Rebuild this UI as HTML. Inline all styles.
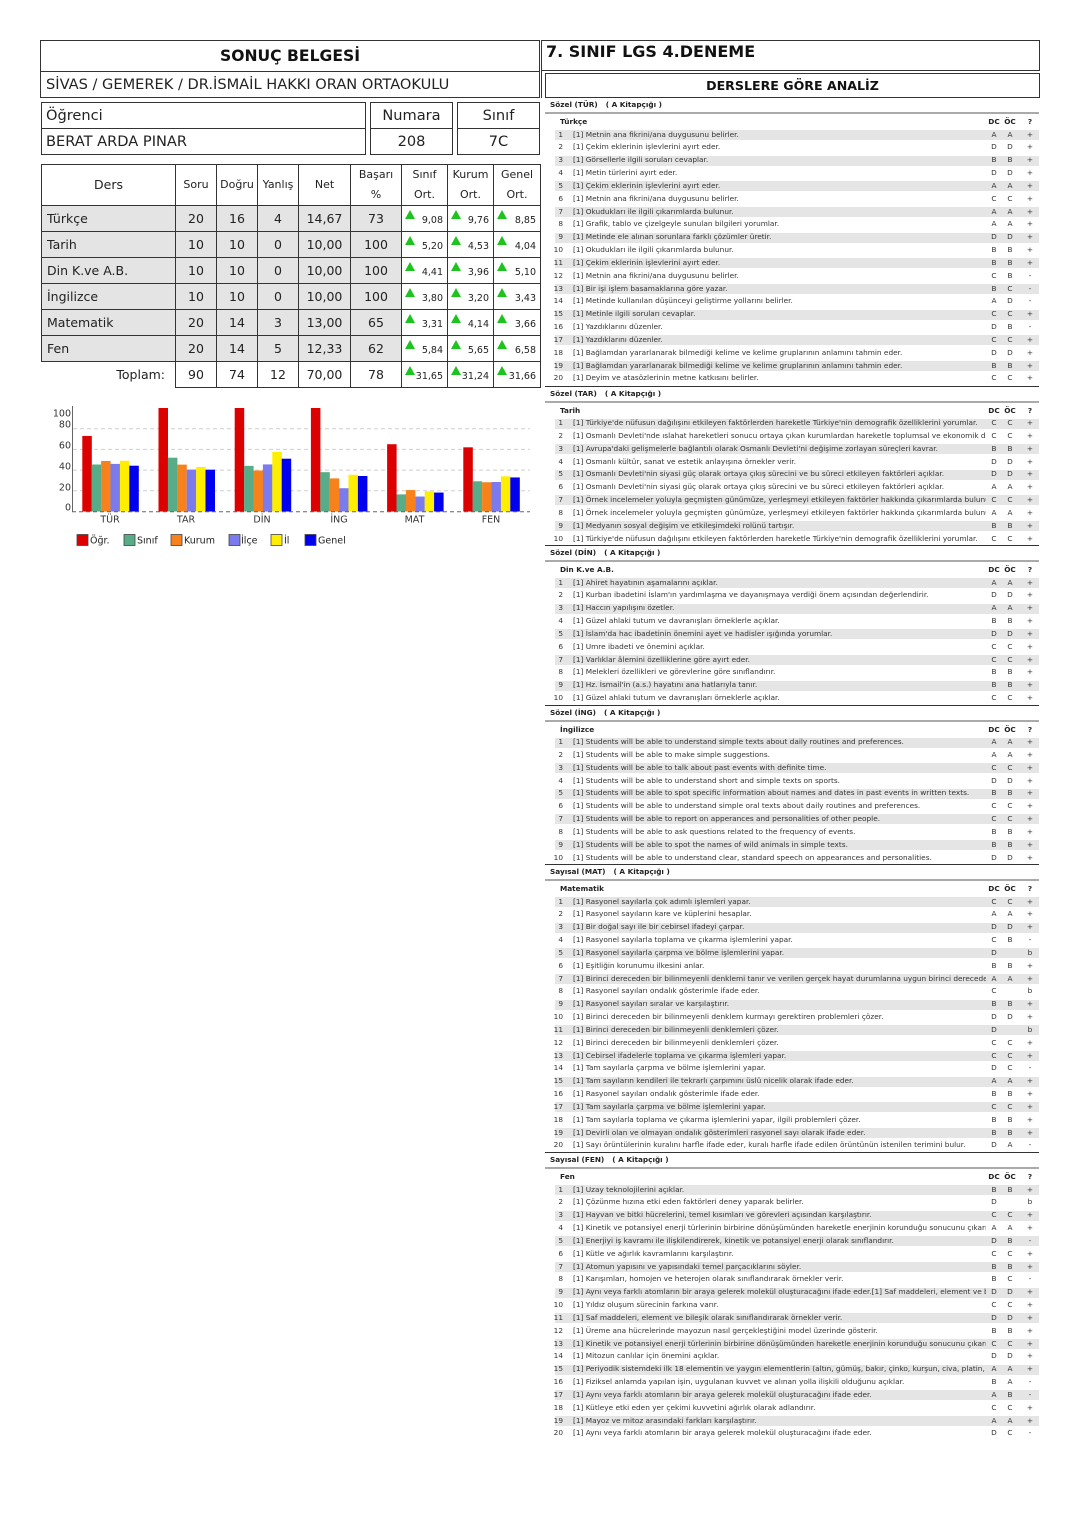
<!DOCTYPE html>
<html>
<head>
<meta charset="utf-8">
<style>
*{margin:0;padding:0;box-sizing:border-box}
html,body{width:1080px;height:1527px;background:#fff;overflow:hidden}
body{position:relative;font-family:"DejaVu Sans","Liberation Sans",sans-serif;color:#222}
.abs{position:absolute}
.box{position:absolute;border:1px solid #333}
/* main table */
table.mt{position:absolute;left:41px;top:164px;width:499px;border-collapse:collapse;table-layout:fixed}
table.mt td{border:1px solid #333;text-align:center;vertical-align:middle;font-size:12.5px;color:#222;white-space:nowrap}
table.mt tr.h td{font-size:11px;line-height:20px}
table.mt tr.h td.ders{font-size:12.5px}
table.mt tr.d td{height:26px}
table.mt tr.d td.gr{background:#e4e4e4}
table.mt td.nm{text-align:left;padding-left:5px}
table.mt td.o{position:relative;text-align:right;padding-right:4px;padding-top:3px;font-size:9.5px;background:#fff}
.tri{position:absolute;left:3px;top:4px;width:0;height:0;border-left:5px solid transparent;border-right:5px solid transparent;border-bottom:9px solid #1ec41e}
/* right sections */
.sec{position:absolute;left:545px;width:494px}
.st{height:15px;border-top:1px solid #333;font-weight:bold;font-size:7.3px;line-height:14px;padding-left:5px;color:#222;white-space:nowrap}
.st span{margin-left:8px}
.gl{height:2px;background:#aaa}
.sh{position:relative;height:14.6px;line-height:15px;font-weight:bold;font-size:7.3px;color:#222;margin-left:10px}
.sh span{position:absolute;top:0}
.r{position:relative;height:12.84px;line-height:12.84px;margin-left:10px;font-size:7.35px;color:#333;white-space:nowrap}
.r.g{background:linear-gradient(#e5e5e5,#e5e5e5) 0 50%/100% 10px no-repeat}
.r span,.sh span{position:absolute;top:0}
.n{left:-4px;width:12px;text-align:right}
.t{left:18px;width:413px;overflow:hidden}
.a{left:432px;width:14px;text-align:center}
.b{left:448px;width:14px;text-align:center}
.c{left:468px;width:14px;text-align:center}
</style>
</head>
<body>

<!-- LEFT HEADER -->
<div class="box" style="left:40px;top:40px;width:500px;height:58px;">
  <div style="height:31px;border-bottom:1px solid #333;text-align:center;font-weight:bold;font-size:15.6px;line-height:30px;color:#111;">SONUÇ BELGESİ</div>
  <div style="height:26px;line-height:26px;font-size:14.6px;padding-left:5px;color:#222;white-space:nowrap;">SİVAS / GEMEREK / DR.İSMAİL HAKKI ORAN ORTAOKULU</div>
</div>

<div class="box" style="left:41px;top:102px;width:325px;height:53px;">
  <div style="height:26px;border-bottom:1px solid #333;line-height:25px;font-size:14.6px;padding-left:4px;">Öğrenci</div>
  <div style="height:25px;line-height:25px;font-size:14.6px;padding-left:4px;">BERAT ARDA PINAR</div>
</div>
<div class="box" style="left:370px;top:102px;width:83px;height:53px;text-align:center;">
  <div style="height:26px;border-bottom:1px solid #333;line-height:25px;font-size:14.6px;">Numara</div>
  <div style="height:25px;line-height:25px;font-size:14.6px;">208</div>
</div>
<div class="box" style="left:457px;top:102px;width:83px;height:53px;text-align:center;">
  <div style="height:26px;border-bottom:1px solid #333;line-height:25px;font-size:14.6px;">Sınıf</div>
  <div style="height:25px;line-height:25px;font-size:14.6px;">7C</div>
</div>

<table class="mt">
<colgroup><col style="width:134px"><col style="width:41px"><col style="width:41px"><col style="width:41px"><col style="width:52px"><col style="width:51px"><col style="width:46px"><col style="width:46px"><col style="width:47px"></colgroup>
<tr class="h" style="height:41px"><td class="ders">Ders</td><td>Soru</td><td>Doğru</td><td>Yanlış</td><td>Net</td><td>Başarı<br>%</td><td>Sınıf<br>Ort.</td><td>Kurum<br>Ort.</td><td>Genel<br>Ort.</td></tr>
<tr class="d"><td class="gr nm">Türkçe</td><td class="gr">20</td><td class="gr">16</td><td class="gr">4</td><td class="gr">14,67</td><td class="gr">73</td><td class="o"><div class="tri"></div>9,08</td><td class="o"><div class="tri"></div>9,76</td><td class="o"><div class="tri"></div>8,85</td></tr>
<tr class="d"><td class="gr nm">Tarih</td><td class="gr">10</td><td class="gr">10</td><td class="gr">0</td><td class="gr">10,00</td><td class="gr">100</td><td class="o"><div class="tri"></div>5,20</td><td class="o"><div class="tri"></div>4,53</td><td class="o"><div class="tri"></div>4,04</td></tr>
<tr class="d"><td class="gr nm">Din K.ve A.B.</td><td class="gr">10</td><td class="gr">10</td><td class="gr">0</td><td class="gr">10,00</td><td class="gr">100</td><td class="o"><div class="tri"></div>4,41</td><td class="o"><div class="tri"></div>3,96</td><td class="o"><div class="tri"></div>5,10</td></tr>
<tr class="d"><td class="gr nm">İngilizce</td><td class="gr">10</td><td class="gr">10</td><td class="gr">0</td><td class="gr">10,00</td><td class="gr">100</td><td class="o"><div class="tri"></div>3,80</td><td class="o"><div class="tri"></div>3,20</td><td class="o"><div class="tri"></div>3,43</td></tr>
<tr class="d"><td class="gr nm">Matematik</td><td class="gr">20</td><td class="gr">14</td><td class="gr">3</td><td class="gr">13,00</td><td class="gr">65</td><td class="o"><div class="tri"></div>3,31</td><td class="o"><div class="tri"></div>4,14</td><td class="o"><div class="tri"></div>3,66</td></tr>
<tr class="d"><td class="gr nm">Fen</td><td class="gr">20</td><td class="gr">14</td><td class="gr">5</td><td class="gr">12,33</td><td class="gr">62</td><td class="o"><div class="tri"></div>5,84</td><td class="o"><div class="tri"></div>5,65</td><td class="o"><div class="tri"></div>6,58</td></tr>
<tr class="d"><td style="border-left:none;border-bottom:none;text-align:right;padding-right:10px;">Toplam:</td><td>90</td><td>74</td><td>12</td><td>70,00</td><td>78</td><td class="o"><div class="tri"></div>31,65</td><td class="o"><div class="tri"></div>31,24</td><td class="o"><div class="tri"></div>31,66</td></tr>
</table>

<!-- CHART -->
<svg class="abs" style="left:40px;top:400px" width="500" height="150" viewBox="40 400 500 150" xmlns="http://www.w3.org/2000/svg" font-family="DejaVu Sans, Liberation Sans, sans-serif">
  <g stroke="#cfcfcf" stroke-width="1" stroke-dasharray="4,3">
    <line x1="73" y1="490.8" x2="530" y2="490.8"/>
    <line x1="73" y1="470.1" x2="530" y2="470.1"/>
    <line x1="73" y1="449.4" x2="530" y2="449.4"/>
    <line x1="73" y1="428.7" x2="530" y2="428.7"/>
  </g>
  <g font-size="9.5" fill="#333" text-anchor="end">
    <text x="71" y="416.5">100</text>
    <text x="71" y="427.5">80</text>
    <text x="71" y="448.5">60</text>
    <text x="71" y="469.5">40</text>
    <text x="71" y="490.5">20</text>
    <text x="71" y="510.5">0</text>
  </g>
  <g>
    <rect x="82.3" y="435.94" width="9.5" height="75.56" fill="#dd0000"/>
    <rect x="91.7" y="464.51" width="9.5" height="46.99" fill="#58ad88"/>
    <rect x="101.1" y="460.99" width="9.5" height="50.51" fill="#f7821b"/>
    <rect x="110.5" y="463.89" width="9.5" height="47.61" fill="#7b7bee"/>
    <rect x="119.9" y="460.78" width="9.5" height="50.72" fill="#ffee00"/>
    <rect x="129.3" y="465.70" width="9.5" height="45.80" fill="#0000ee"/>
    <rect x="158.5" y="408" width="9.5" height="103.5" fill="#dd0000"/>
    <rect x="167.9" y="457.68" width="9.5" height="53.82" fill="#58ad88"/>
    <rect x="177.3" y="464.61" width="9.5" height="46.89" fill="#f7821b"/>
    <rect x="186.7" y="469.58" width="9.5" height="41.92" fill="#7b7bee"/>
    <rect x="196.1" y="466.99" width="9.5" height="44.51" fill="#ffee00"/>
    <rect x="205.5" y="469.69" width="9.5" height="41.81" fill="#0000ee"/>
    <rect x="234.7" y="408" width="9.5" height="103.5" fill="#dd0000"/>
    <rect x="244.1" y="465.86" width="9.5" height="45.64" fill="#58ad88"/>
    <rect x="253.5" y="470.51" width="9.5" height="40.99" fill="#f7821b"/>
    <rect x="262.9" y="464.41" width="9.5" height="47.09" fill="#7b7bee"/>
    <rect x="272.3" y="451.99" width="9.5" height="59.51" fill="#ffee00"/>
    <rect x="281.7" y="458.71" width="9.5" height="52.79" fill="#0000ee"/>
    <rect x="310.9" y="408" width="9.5" height="103.5" fill="#dd0000"/>
    <rect x="320.3" y="472.17" width="9.5" height="39.33" fill="#58ad88"/>
    <rect x="329.7" y="478.38" width="9.5" height="33.12" fill="#f7821b"/>
    <rect x="339.1" y="488.21" width="9.5" height="23.29" fill="#7b7bee"/>
    <rect x="348.5" y="474.76" width="9.5" height="36.74" fill="#ffee00"/>
    <rect x="357.9" y="476.0" width="9.5" height="35.5" fill="#0000ee"/>
    <rect x="387.1" y="444.22" width="9.5" height="67.28" fill="#dd0000"/>
    <rect x="396.5" y="494.37" width="9.5" height="17.13" fill="#58ad88"/>
    <rect x="405.9" y="490.08" width="9.5" height="21.42" fill="#f7821b"/>
    <rect x="415.3" y="496.49" width="9.5" height="15.01" fill="#7b7bee"/>
    <rect x="424.7" y="491.32" width="9.5" height="20.18" fill="#ffee00"/>
    <rect x="434.1" y="492.56" width="9.5" height="18.94" fill="#0000ee"/>
    <rect x="463.3" y="447.33" width="9.5" height="64.17" fill="#dd0000"/>
    <rect x="472.7" y="481.28" width="9.5" height="30.22" fill="#58ad88"/>
    <rect x="482.1" y="482.26" width="9.5" height="29.24" fill="#f7821b"/>
    <rect x="491.5" y="482.0" width="9.5" height="29.5" fill="#7b7bee"/>
    <rect x="500.9" y="476.31" width="9.5" height="35.19" fill="#ffee00"/>
    <rect x="510.3" y="477.45" width="9.5" height="34.05" fill="#0000ee"/>
  </g>
  <line x1="72.5" y1="406" x2="72.5" y2="512" stroke="#666" stroke-width="1"/>
  <line x1="72" y1="511.8" x2="530" y2="511.8" stroke="#666" stroke-width="1" stroke-dasharray="4,3"/>
  <g font-size="9.5" fill="#333" text-anchor="middle">
    <text x="110" y="522.5">TÜR</text>
    <text x="186" y="522.5">TAR</text>
    <text x="262" y="522.5">DİN</text>
    <text x="339" y="522.5">İNG</text>
    <text x="414.5" y="522.5">MAT</text>
    <text x="491" y="522.5">FEN</text>
  </g>
  <g stroke="#444" stroke-width="0.8">
    <rect x="77" y="534.5" width="11" height="11" fill="#dd0000"/>
    <rect x="124" y="534.5" width="11" height="11" fill="#58ad88"/>
    <rect x="171" y="534.5" width="11" height="11" fill="#f7821b"/>
    <rect x="229" y="534.5" width="11" height="11" fill="#7b7bee"/>
    <rect x="271" y="534.5" width="11" height="11" fill="#ffee00"/>
    <rect x="305" y="534.5" width="11" height="11" fill="#0000ee"/>
  </g>
  <g font-size="9.5" fill="#222">
    <text x="90" y="543.5">Öğr.</text>
    <text x="137" y="543.5">Sınıf</text>
    <text x="184" y="543.5">Kurum</text>
    <text x="241" y="543.5">İlçe</text>
    <text x="284" y="543.5">İl</text>
    <text x="318" y="543.5">Genel</text>
  </g>
</svg>

<!-- RIGHT HEADER -->
<div class="box" style="left:541px;top:40px;width:499px;height:31px;">
  <div style="font-weight:bold;font-size:16px;line-height:20px;padding-left:4px;padding-top:1px;color:#111;white-space:nowrap;">7. SINIF LGS 4.DENEME</div>
</div>
<div class="abs" style="left:541px;top:70px;width:1px;height:28px;background:#333"></div>
<div class="box" style="left:545px;top:73px;width:495px;height:25px;text-align:center;font-weight:bold;font-size:12.6px;line-height:23px;color:#111;">DERSLERE GÖRE ANALİZ</div>

<!-- TÜR -->
<div class="sec" style="top:97px">
<div class="st">Sözel (TÜR)<span>( A Kitapçığı )</span></div>
<div class="gl"></div>
<div class="sh"><span style="left:5px">Türkçe</span><span class="a">DC</span><span class="b">ÖC</span><span class="c">?</span></div>
<div class="r g"><span class="n">1</span><span class="t">[1] Metnin ana fikrini/ana duygusunu belirler.</span><span class="a">A</span><span class="b">A</span><span class="c">+</span></div>
<div class="r"><span class="n">2</span><span class="t">[1] Çekim eklerinin işlevlerini ayırt eder.</span><span class="a">D</span><span class="b">D</span><span class="c">+</span></div>
<div class="r g"><span class="n">3</span><span class="t">[1] Görsellerle ilgili soruları cevaplar.</span><span class="a">B</span><span class="b">B</span><span class="c">+</span></div>
<div class="r"><span class="n">4</span><span class="t">[1] Metin türlerini ayırt eder.</span><span class="a">D</span><span class="b">D</span><span class="c">+</span></div>
<div class="r g"><span class="n">5</span><span class="t">[1] Çekim eklerinin işlevlerini ayırt eder.</span><span class="a">A</span><span class="b">A</span><span class="c">+</span></div>
<div class="r"><span class="n">6</span><span class="t">[1] Metnin ana fikrini/ana duygusunu belirler.</span><span class="a">C</span><span class="b">C</span><span class="c">+</span></div>
<div class="r g"><span class="n">7</span><span class="t">[1] Okudukları ile ilgili çıkarımlarda bulunur.</span><span class="a">A</span><span class="b">A</span><span class="c">+</span></div>
<div class="r"><span class="n">8</span><span class="t">[1] Grafik, tablo ve çizelgeyle sunulan bilgileri yorumlar.</span><span class="a">A</span><span class="b">A</span><span class="c">+</span></div>
<div class="r g"><span class="n">9</span><span class="t">[1] Metinde ele alınan sorunlara farklı çözümler üretir.</span><span class="a">D</span><span class="b">D</span><span class="c">+</span></div>
<div class="r"><span class="n">10</span><span class="t">[1] Okudukları ile ilgili çıkarımlarda bulunur.</span><span class="a">B</span><span class="b">B</span><span class="c">+</span></div>
<div class="r g"><span class="n">11</span><span class="t">[1] Çekim eklerinin işlevlerini ayırt eder.</span><span class="a">B</span><span class="b">B</span><span class="c">+</span></div>
<div class="r"><span class="n">12</span><span class="t">[1] Metnin ana fikrini/ana duygusunu belirler.</span><span class="a">C</span><span class="b">B</span><span class="c">-</span></div>
<div class="r g"><span class="n">13</span><span class="t">[1] Bir işi işlem basamaklarına göre yazar.</span><span class="a">B</span><span class="b">C</span><span class="c">-</span></div>
<div class="r"><span class="n">14</span><span class="t">[1] Metinde kullanılan düşünceyi geliştirme yollarını belirler.</span><span class="a">A</span><span class="b">D</span><span class="c">-</span></div>
<div class="r g"><span class="n">15</span><span class="t">[1] Metinle ilgili soruları cevaplar.</span><span class="a">C</span><span class="b">C</span><span class="c">+</span></div>
<div class="r"><span class="n">16</span><span class="t">[1] Yazdıklarını düzenler.</span><span class="a">D</span><span class="b">B</span><span class="c">-</span></div>
<div class="r g"><span class="n">17</span><span class="t">[1] Yazdıklarını düzenler.</span><span class="a">C</span><span class="b">C</span><span class="c">+</span></div>
<div class="r"><span class="n">18</span><span class="t">[1] Bağlamdan yararlanarak bilmediği kelime ve kelime gruplarının anlamını tahmin eder.</span><span class="a">D</span><span class="b">D</span><span class="c">+</span></div>
<div class="r g"><span class="n">19</span><span class="t">[1] Bağlamdan yararlanarak bilmediği kelime ve kelime gruplarının anlamını tahmin eder.</span><span class="a">B</span><span class="b">B</span><span class="c">+</span></div>
<div class="r"><span class="n">20</span><span class="t">[1] Deyim ve atasözlerinin metne katkısını belirler.</span><span class="a">C</span><span class="b">C</span><span class="c">+</span></div>
</div>

<!-- TAR -->
<div class="sec" style="top:385.5px">
<div class="st">Sözel (TAR)<span>( A Kitapçığı )</span></div>
<div class="gl"></div>
<div class="sh"><span style="left:5px">Tarih</span><span class="a">DC</span><span class="b">ÖC</span><span class="c">?</span></div>
<div class="r g"><span class="n">1</span><span class="t">[1] Türkiye'de nüfusun dağılışını etkileyen faktörlerden hareketle Türkiye'nin demografik özelliklerini yorumlar.</span><span class="a">C</span><span class="b">C</span><span class="c">+</span></div>
<div class="r"><span class="n">2</span><span class="t">[1] Osmanlı Devleti'nde ıslahat hareketleri sonucu ortaya çıkan kurumlardan hareketle toplumsal ve ekonomik değişimi analiz eder.</span><span class="a">C</span><span class="b">C</span><span class="c">+</span></div>
<div class="r g"><span class="n">3</span><span class="t">[1] Avrupa'daki gelişmelerle bağlantılı olarak Osmanlı Devleti'ni değişime zorlayan süreçleri kavrar.</span><span class="a">B</span><span class="b">B</span><span class="c">+</span></div>
<div class="r"><span class="n">4</span><span class="t">[1] Osmanlı kültür, sanat ve estetik anlayışına örnekler verir.</span><span class="a">D</span><span class="b">D</span><span class="c">+</span></div>
<div class="r g"><span class="n">5</span><span class="t">[1] Osmanlı Devleti'nin siyasi güç olarak ortaya çıkış sürecini ve bu süreci etkileyen faktörleri açıklar.</span><span class="a">D</span><span class="b">D</span><span class="c">+</span></div>
<div class="r"><span class="n">6</span><span class="t">[1] Osmanlı Devleti'nin siyasi güç olarak ortaya çıkış sürecini ve bu süreci etkileyen faktörleri açıklar.</span><span class="a">A</span><span class="b">A</span><span class="c">+</span></div>
<div class="r g"><span class="n">7</span><span class="t">[1] Örnek incelemeler yoluyla geçmişten günümüze, yerleşmeyi etkileyen faktörler hakkında çıkarımlarda bulunur.</span><span class="a">C</span><span class="b">C</span><span class="c">+</span></div>
<div class="r"><span class="n">8</span><span class="t">[1] Örnek incelemeler yoluyla geçmişten günümüze, yerleşmeyi etkileyen faktörler hakkında çıkarımlarda bulunur.</span><span class="a">A</span><span class="b">A</span><span class="c">+</span></div>
<div class="r g"><span class="n">9</span><span class="t">[1] Medyanın sosyal değişim ve etkileşimdeki rolünü tartışır.</span><span class="a">B</span><span class="b">B</span><span class="c">+</span></div>
<div class="r"><span class="n">10</span><span class="t">[1] Türkiye'de nüfusun dağılışını etkileyen faktörlerden hareketle Türkiye'nin demografik özelliklerini yorumlar.</span><span class="a">C</span><span class="b">C</span><span class="c">+</span></div>
</div>

<!-- DIN -->
<div class="sec" style="top:545px">
<div class="st">Sözel (DİN)<span>( A Kitapçığı )</span></div>
<div class="gl"></div>
<div class="sh"><span style="left:5px">Din K.ve A.B.</span><span class="a">DC</span><span class="b">ÖC</span><span class="c">?</span></div>
<div class="r g"><span class="n">1</span><span class="t">[1] Ahiret hayatının aşamalarını açıklar.</span><span class="a">A</span><span class="b">A</span><span class="c">+</span></div>
<div class="r"><span class="n">2</span><span class="t">[1] Kurban ibadetini İslam'ın yardımlaşma ve dayanışmaya verdiği önem açısından değerlendirir.</span><span class="a">D</span><span class="b">D</span><span class="c">+</span></div>
<div class="r g"><span class="n">3</span><span class="t">[1] Haccın yapılışını özetler.</span><span class="a">A</span><span class="b">A</span><span class="c">+</span></div>
<div class="r"><span class="n">4</span><span class="t">[1] Güzel ahlaki tutum ve davranışları örneklerle açıklar.</span><span class="a">B</span><span class="b">B</span><span class="c">+</span></div>
<div class="r g"><span class="n">5</span><span class="t">[1] İslam'da hac ibadetinin önemini ayet ve hadisler ışığında yorumlar.</span><span class="a">D</span><span class="b">D</span><span class="c">+</span></div>
<div class="r"><span class="n">6</span><span class="t">[1] Umre ibadeti ve önemini açıklar.</span><span class="a">C</span><span class="b">C</span><span class="c">+</span></div>
<div class="r g"><span class="n">7</span><span class="t">[1] Varlıklar âlemini özelliklerine göre ayırt eder.</span><span class="a">C</span><span class="b">C</span><span class="c">+</span></div>
<div class="r"><span class="n">8</span><span class="t">[1] Melekleri özellikleri ve görevlerine göre sınıflandırır.</span><span class="a">B</span><span class="b">B</span><span class="c">+</span></div>
<div class="r g"><span class="n">9</span><span class="t">[1] Hz. İsmail'in (a.s.) hayatını ana hatlarıyla tanır.</span><span class="a">B</span><span class="b">B</span><span class="c">+</span></div>
<div class="r"><span class="n">10</span><span class="t">[1] Güzel ahlaki tutum ve davranışları örneklerle açıklar.</span><span class="a">C</span><span class="b">C</span><span class="c">+</span></div>
</div>

<!-- ING -->
<div class="sec" style="top:704.5px">
<div class="st">Sözel (İNG)<span>( A Kitapçığı )</span></div>
<div class="gl"></div>
<div class="sh"><span style="left:5px">İngilizce</span><span class="a">DC</span><span class="b">ÖC</span><span class="c">?</span></div>
<div class="r g"><span class="n">1</span><span class="t">[1] Students will be able to understand simple texts about daily routines and preferences.</span><span class="a">A</span><span class="b">A</span><span class="c">+</span></div>
<div class="r"><span class="n">2</span><span class="t">[1] Students will be able to make simple suggestions.</span><span class="a">A</span><span class="b">A</span><span class="c">+</span></div>
<div class="r g"><span class="n">3</span><span class="t">[1] Students will be able to talk about past events with definite time.</span><span class="a">C</span><span class="b">C</span><span class="c">+</span></div>
<div class="r"><span class="n">4</span><span class="t">[1] Students will be able to understand short and simple texts on sports.</span><span class="a">D</span><span class="b">D</span><span class="c">+</span></div>
<div class="r g"><span class="n">5</span><span class="t">[1] Students will be able to spot specific information about names and dates in past events in written texts.</span><span class="a">B</span><span class="b">B</span><span class="c">+</span></div>
<div class="r"><span class="n">6</span><span class="t">[1] Students will be able to understand simple oral texts about daily routines and preferences.</span><span class="a">C</span><span class="b">C</span><span class="c">+</span></div>
<div class="r g"><span class="n">7</span><span class="t">[1] Students will be able to report on apperances and personalities of other people.</span><span class="a">C</span><span class="b">C</span><span class="c">+</span></div>
<div class="r"><span class="n">8</span><span class="t">[1] Students will be able to ask questions related to the frequency of events.</span><span class="a">B</span><span class="b">B</span><span class="c">+</span></div>
<div class="r g"><span class="n">9</span><span class="t">[1] Students will be able to spot the names of wild animals in simple texts.</span><span class="a">B</span><span class="b">B</span><span class="c">+</span></div>
<div class="r"><span class="n">10</span><span class="t">[1] Students will be able to understand clear, standard speech on appearances and personalities.</span><span class="a">D</span><span class="b">D</span><span class="c">+</span></div>
</div>

<!-- MAT -->
<div class="sec" style="top:864px">
<div class="st">Sayısal (MAT)<span>( A Kitapçığı )</span></div>
<div class="gl"></div>
<div class="sh"><span style="left:5px">Matematik</span><span class="a">DC</span><span class="b">ÖC</span><span class="c">?</span></div>
<div class="r g"><span class="n">1</span><span class="t">[1] Rasyonel sayılarla çok adımlı işlemleri yapar.</span><span class="a">C</span><span class="b">C</span><span class="c">+</span></div>
<div class="r"><span class="n">2</span><span class="t">[1] Rasyonel sayıların kare ve küplerini hesaplar.</span><span class="a">A</span><span class="b">A</span><span class="c">+</span></div>
<div class="r g"><span class="n">3</span><span class="t">[1] Bir doğal sayı ile bir cebirsel ifadeyi çarpar.</span><span class="a">D</span><span class="b">D</span><span class="c">+</span></div>
<div class="r"><span class="n">4</span><span class="t">[1] Rasyonel sayılarla toplama ve çıkarma işlemlerini yapar.</span><span class="a">C</span><span class="b">B</span><span class="c">-</span></div>
<div class="r g"><span class="n">5</span><span class="t">[1] Rasyonel sayılarla çarpma ve bölme işlemlerini yapar.</span><span class="a">D</span><span class="b"></span><span class="c">b</span></div>
<div class="r"><span class="n">6</span><span class="t">[1] Eşitliğin korunumu ilkesini anlar.</span><span class="a">B</span><span class="b">B</span><span class="c">+</span></div>
<div class="r g"><span class="n">7</span><span class="t">[1] Birinci dereceden bir bilinmeyenli denklemi tanır ve verilen gerçek hayat durumlarına uygun birinci dereceden denklem kurar.</span><span class="a">A</span><span class="b">A</span><span class="c">+</span></div>
<div class="r"><span class="n">8</span><span class="t">[1] Rasyonel sayıları ondalık gösterimle ifade eder.</span><span class="a">C</span><span class="b"></span><span class="c">b</span></div>
<div class="r g"><span class="n">9</span><span class="t">[1] Rasyonel sayıları sıralar ve karşılaştırır.</span><span class="a">B</span><span class="b">B</span><span class="c">+</span></div>
<div class="r"><span class="n">10</span><span class="t">[1] Birinci dereceden bir bilinmeyenli denklem kurmayı gerektiren problemleri çözer.</span><span class="a">D</span><span class="b">D</span><span class="c">+</span></div>
<div class="r g"><span class="n">11</span><span class="t">[1] Birinci dereceden bir bilinmeyenli denklemleri çözer.</span><span class="a">D</span><span class="b"></span><span class="c">b</span></div>
<div class="r"><span class="n">12</span><span class="t">[1] Birinci dereceden bir bilinmeyenli denklemleri çözer.</span><span class="a">C</span><span class="b">C</span><span class="c">+</span></div>
<div class="r g"><span class="n">13</span><span class="t">[1] Cebirsel ifadelerle toplama ve çıkarma işlemleri yapar.</span><span class="a">C</span><span class="b">C</span><span class="c">+</span></div>
<div class="r"><span class="n">14</span><span class="t">[1] Tam sayılarla çarpma ve bölme işlemlerini yapar.</span><span class="a">D</span><span class="b">C</span><span class="c">-</span></div>
<div class="r g"><span class="n">15</span><span class="t">[1] Tam sayıların kendileri ile tekrarlı çarpımını üslü nicelik olarak ifade eder.</span><span class="a">A</span><span class="b">A</span><span class="c">+</span></div>
<div class="r"><span class="n">16</span><span class="t">[1] Rasyonel sayıları ondalık gösterimle ifade eder.</span><span class="a">B</span><span class="b">B</span><span class="c">+</span></div>
<div class="r g"><span class="n">17</span><span class="t">[1] Tam sayılarla çarpma ve bölme işlemlerini yapar.</span><span class="a">C</span><span class="b">C</span><span class="c">+</span></div>
<div class="r"><span class="n">18</span><span class="t">[1] Tam sayılarla toplama ve çıkarma işlemlerini yapar, ilgili problemleri çözer.</span><span class="a">B</span><span class="b">B</span><span class="c">+</span></div>
<div class="r g"><span class="n">19</span><span class="t">[1] Devirli olan ve olmayan ondalık gösterimleri rasyonel sayı olarak ifade eder.</span><span class="a">B</span><span class="b">B</span><span class="c">+</span></div>
<div class="r"><span class="n">20</span><span class="t">[1] Sayı örüntülerinin kuralını harfle ifade eder, kuralı harfle ifade edilen örüntünün istenilen terimini bulur.</span><span class="a">D</span><span class="b">A</span><span class="c">-</span></div>
</div>

<!-- FEN -->
<div class="sec" style="top:1152px">
<div class="st">Sayısal (FEN)<span>( A Kitapçığı )</span></div>
<div class="gl"></div>
<div class="sh"><span style="left:5px">Fen</span><span class="a">DC</span><span class="b">ÖC</span><span class="c">?</span></div>
<div class="r g"><span class="n">1</span><span class="t">[1] Uzay teknolojilerini açıklar.</span><span class="a">B</span><span class="b">B</span><span class="c">+</span></div>
<div class="r"><span class="n">2</span><span class="t">[1] Çözünme hızına etki eden faktörleri deney yaparak belirler.</span><span class="a">D</span><span class="b"></span><span class="c">b</span></div>
<div class="r g"><span class="n">3</span><span class="t">[1] Hayvan ve bitki hücrelerini, temel kısımları ve görevleri açısından karşılaştırır.</span><span class="a">C</span><span class="b">C</span><span class="c">+</span></div>
<div class="r"><span class="n">4</span><span class="t">[1] Kinetik ve potansiyel enerji türlerinin birbirine dönüşümünden hareketle enerjinin korunduğu sonucunu çıkarır.</span><span class="a">A</span><span class="b">A</span><span class="c">+</span></div>
<div class="r g"><span class="n">5</span><span class="t">[1] Enerjiyi iş kavramı ile ilişkilendirerek, kinetik ve potansiyel enerji olarak sınıflandırır.</span><span class="a">D</span><span class="b">B</span><span class="c">-</span></div>
<div class="r"><span class="n">6</span><span class="t">[1] Kütle ve ağırlık kavramlarını karşılaştırır.</span><span class="a">C</span><span class="b">C</span><span class="c">+</span></div>
<div class="r g"><span class="n">7</span><span class="t">[1] Atomun yapısını ve yapısındaki temel parçacıklarını söyler.</span><span class="a">B</span><span class="b">B</span><span class="c">+</span></div>
<div class="r"><span class="n">8</span><span class="t">[1] Karışımları, homojen ve heterojen olarak sınıflandırarak örnekler verir.</span><span class="a">B</span><span class="b">C</span><span class="c">-</span></div>
<div class="r g"><span class="n">9</span><span class="t">[1] Aynı veya farklı atomların bir araya gelerek molekül oluşturacağını ifade eder.[1] Saf maddeleri, element ve bileşik olarak sınıflandırarak örnekler verir.</span><span class="a">D</span><span class="b">D</span><span class="c">+</span></div>
<div class="r"><span class="n">10</span><span class="t">[1] Yıldız oluşum sürecinin farkına varır.</span><span class="a">C</span><span class="b">C</span><span class="c">+</span></div>
<div class="r g"><span class="n">11</span><span class="t">[1] Saf maddeleri, element ve bileşik olarak sınıflandırarak örnekler verir.</span><span class="a">D</span><span class="b">D</span><span class="c">+</span></div>
<div class="r"><span class="n">12</span><span class="t">[1] Üreme ana hücrelerinde mayozun nasıl gerçekleştiğini model üzerinde gösterir.</span><span class="a">B</span><span class="b">B</span><span class="c">+</span></div>
<div class="r g"><span class="n">13</span><span class="t">[1] Kinetik ve potansiyel enerji türlerinin birbirine dönüşümünden hareketle enerjinin korunduğu sonucunu çıkarır.</span><span class="a">C</span><span class="b">C</span><span class="c">+</span></div>
<div class="r"><span class="n">14</span><span class="t">[1] Mitozun canlılar için önemini açıklar.</span><span class="a">D</span><span class="b">D</span><span class="c">+</span></div>
<div class="r g"><span class="n">15</span><span class="t">[1] Periyodik sistemdeki ilk 18 elementin ve yaygın elementlerin (altın, gümüş, bakır, çinko, kurşun, civa, platin, ıyot) sembollerini söyler.</span><span class="a">A</span><span class="b">A</span><span class="c">+</span></div>
<div class="r"><span class="n">16</span><span class="t">[1] Fiziksel anlamda yapılan işin, uygulanan kuvvet ve alınan yolla ilişkili olduğunu açıklar.</span><span class="a">B</span><span class="b">A</span><span class="c">-</span></div>
<div class="r g"><span class="n">17</span><span class="t">[1] Aynı veya farklı atomların bir araya gelerek molekül oluşturacağını ifade eder.</span><span class="a">A</span><span class="b">B</span><span class="c">-</span></div>
<div class="r"><span class="n">18</span><span class="t">[1] Kütleye etki eden yer çekimi kuvvetini ağırlık olarak adlandırır.</span><span class="a">C</span><span class="b">C</span><span class="c">+</span></div>
<div class="r g"><span class="n">19</span><span class="t">[1] Mayoz ve mitoz arasındaki farkları karşılaştırır.</span><span class="a">A</span><span class="b">A</span><span class="c">+</span></div>
<div class="r"><span class="n">20</span><span class="t">[1] Aynı veya farklı atomların bir araya gelerek molekül oluşturacağını ifade eder.</span><span class="a">D</span><span class="b">C</span><span class="c">-</span></div>
</div>

</body>
</html>
